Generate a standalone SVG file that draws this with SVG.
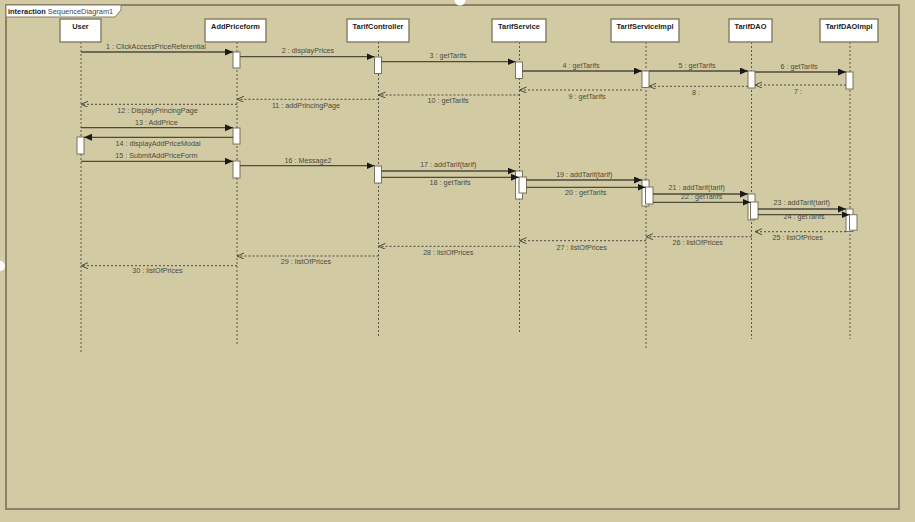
<svg xmlns="http://www.w3.org/2000/svg" width="915" height="522" viewBox="0 0 915 522">
<style>
.ll{stroke:#5e5848;stroke-width:1;stroke-dasharray:2,2;fill:none}
.msg{stroke:#4e4a3e;stroke-width:1.3;fill:none}
.ret{stroke:#4e4a3e;stroke-width:1;stroke-dasharray:2,2;fill:none}
.act{fill:#ffffff;stroke:#7b735a;stroke-width:1}
.box{fill:#ffffff;stroke:#8a8166;stroke-width:1.5}
.lbl{font-family:"Liberation Sans",Arial,sans-serif;font-size:7.2px;fill:#4d4a3f;text-anchor:middle}
.name{font-family:"Liberation Sans",Arial,sans-serif;font-size:7.4px;font-weight:bold;fill:#222;text-anchor:middle}
</style>
<defs>
<marker id="fa" markerUnits="userSpaceOnUse" markerWidth="9" markerHeight="8" refX="8" refY="3.5" orient="auto"><path d="M0,0 L8,3.5 L0,7 Z" fill="#1a1a1a"/></marker>
<marker id="oa" markerUnits="userSpaceOnUse" markerWidth="9" markerHeight="8" refX="7" refY="3" orient="auto"><path d="M0,0 L7,3 L0,6" fill="none" stroke="#4e4a3e" stroke-width="1"/></marker>
</defs>
<rect x="0" y="0" width="915" height="522" fill="#D1CAA2"/>
<g id="frame">
<rect x="6" y="5" width="893" height="504" fill="none" stroke="#8a8166" stroke-width="2"/>
<path d="M6,5 H121 V10 L115,17 H6 Z" fill="#ffffff" stroke="#8a8166" stroke-width="1"/>
<text x="8" y="14" font-family="'Liberation Sans',Arial,sans-serif" font-size="7.4px" fill="#222"><tspan font-weight="bold">interaction</tspan><tspan fill="#444"> SequenceDiagram1</tspan></text>
</g>
<circle cx="460" cy="0" r="5.5" fill="#ffffff"/>
<circle cx="0" cy="266" r="5" fill="#ffffff"/>

<g id="User">
<line class="ll" x1="81" y1="42" x2="81" y2="353"/>
<rect class="box" x="60" y="19" width="41" height="23"/>
<text class="name" x="80.5" y="28.5">User</text>
<rect class="act" x="77" y="137" width="7" height="17"/>
</g>
<g id="AddPriceform">
<line class="ll" x1="237" y1="42" x2="237" y2="346"/>
<rect class="box" x="205" y="19" width="61" height="23"/>
<text class="name" x="235.5" y="28.5">AddPriceform</text>
<rect class="act" x="233" y="52" width="7" height="16"/>
<rect class="act" x="233" y="128" width="7" height="16"/>
<rect class="act" x="233" y="161" width="7" height="17"/>
</g>
<g id="TarifController">
<line class="ll" x1="378.5" y1="42" x2="378.5" y2="336"/>
<rect class="box" x="347" y="19" width="62" height="23"/>
<text class="name" x="378" y="28.5">TarifController</text>
<rect class="act" x="374.5" y="57" width="7" height="16.5"/>
<rect class="act" x="374.5" y="166" width="7" height="17"/>
</g>
<g id="TarifService">
<line class="ll" x1="519.5" y1="42" x2="519.5" y2="332"/>
<rect class="box" x="492" y="19" width="54" height="23"/>
<text class="name" x="519" y="28.5">TarifService</text>
<rect class="act" x="515.5" y="62" width="7" height="16.5"/>
<rect class="act" x="515.5" y="171" width="7" height="28"/>
<rect class="act" x="519" y="177" width="7.5" height="16"/>
</g>
<g id="TarifServiceImpl">
<line class="ll" x1="646" y1="42" x2="646" y2="350"/>
<rect class="box" x="611" y="19" width="68" height="23"/>
<text class="name" x="645" y="28.5">TarifServiceImpl</text>
<rect class="act" x="642" y="71" width="7" height="16.5"/>
<rect class="act" x="642" y="180" width="7" height="26"/>
<rect class="act" x="645.5" y="187" width="7.5" height="17"/>
</g>
<g id="TarifDAO">
<line class="ll" x1="751.5" y1="42" x2="751.5" y2="339"/>
<rect class="box" x="729" y="19" width="43" height="23"/>
<text class="name" x="750.5" y="28.5">TarifDAO</text>
<rect class="act" x="748" y="71" width="7" height="17"/>
<rect class="act" x="748" y="194" width="7" height="26"/>
<rect class="act" x="750.5" y="202" width="7.5" height="17"/>
</g>
<g id="TarifDAOImpl">
<line class="ll" x1="850" y1="42" x2="850" y2="339"/>
<rect class="box" x="820" y="19" width="58" height="23"/>
<text class="name" x="849" y="28.5">TarifDAOImpl</text>
<rect class="act" x="846" y="72" width="7" height="17"/>
<rect class="act" x="846" y="209" width="7" height="22.5"/>
<rect class="act" x="849.5" y="214.7" width="7.5" height="15.5"/>
</g>

<g id="connectors">
<line class="msg" x1="81" y1="52" x2="233" y2="52" marker-end="url(#fa)"/>
<line class="msg" x1="240" y1="56.7" x2="374.5" y2="56.7" marker-end="url(#fa)"/>
<line class="msg" x1="381.5" y1="61.7" x2="515.5" y2="61.7" marker-end="url(#fa)"/>
<line class="msg" x1="522.5" y1="71" x2="642" y2="71" marker-end="url(#fa)"/>
<line class="msg" x1="649" y1="71" x2="748" y2="71" marker-end="url(#fa)"/>
<line class="msg" x1="755" y1="72" x2="846" y2="72" marker-end="url(#fa)"/>
<line class="ret" x1="846" y1="85" x2="755" y2="85" marker-end="url(#oa)"/>
<line class="ret" x1="748" y1="86.3" x2="649" y2="86.3" marker-end="url(#oa)"/>
<line class="ret" x1="642" y1="90" x2="519.5" y2="90" marker-end="url(#oa)"/>
<line class="ret" x1="519.5" y1="95" x2="378.5" y2="95" marker-end="url(#oa)"/>
<line class="ret" x1="378.5" y1="99.3" x2="237" y2="99.3" marker-end="url(#oa)"/>
<line class="ret" x1="237" y1="104.3" x2="81" y2="104.3" marker-end="url(#oa)"/>
<line class="msg" x1="81" y1="127.7" x2="233" y2="127.7" marker-end="url(#fa)"/>
<line class="msg" x1="233" y1="137.3" x2="84" y2="137.3" marker-end="url(#fa)"/>
<line class="msg" x1="81" y1="161.3" x2="233" y2="161.3" marker-end="url(#fa)"/>
<line class="msg" x1="240" y1="165.7" x2="374.5" y2="165.7" marker-end="url(#fa)"/>
<line class="msg" x1="381.5" y1="171" x2="515.5" y2="171" marker-end="url(#fa)"/>
<line class="msg" x1="381.5" y1="177.3" x2="519" y2="177.3" marker-end="url(#fa)"/>
<line class="msg" x1="526.5" y1="180" x2="642" y2="180" marker-end="url(#fa)"/>
<line class="msg" x1="526.5" y1="187.3" x2="645.5" y2="187.3" marker-end="url(#fa)"/>
<line class="msg" x1="653" y1="194" x2="748" y2="194" marker-end="url(#fa)"/>
<line class="msg" x1="653" y1="202.3" x2="750.5" y2="202.3" marker-end="url(#fa)"/>
<line class="msg" x1="758" y1="209" x2="846" y2="209" marker-end="url(#fa)"/>
<line class="msg" x1="758" y1="214.7" x2="849.5" y2="214.7" marker-end="url(#fa)"/>
<line class="ret" x1="846" y1="231.7" x2="755" y2="231.7" marker-end="url(#oa)"/>
<line class="ret" x1="751.5" y1="236.7" x2="646" y2="236.7" marker-end="url(#oa)"/>
<line class="ret" x1="646" y1="240.7" x2="519.5" y2="240.7" marker-end="url(#oa)"/>
<line class="ret" x1="519.5" y1="246.3" x2="378.5" y2="246.3" marker-end="url(#oa)"/>
<line class="ret" x1="378.5" y1="256" x2="237" y2="256" marker-end="url(#oa)"/>
<line class="ret" x1="237" y1="265.7" x2="81" y2="265.7" marker-end="url(#oa)"/>

<text class="lbl" x="156" y="48.5">1 : ClickAccessPriceReferential</text>
<text class="lbl" x="308" y="53">2 : displayPrices</text>
<text class="lbl" x="448" y="57.5">3 : getTarifs</text>
<text class="lbl" x="581" y="67.5">4 : getTarifs</text>
<text class="lbl" x="697" y="68">5 : getTarifs</text>
<text class="lbl" x="799" y="68.5">6 : getTarifs</text>
<text class="lbl" x="798" y="93.5">7 :</text>
<text class="lbl" x="696" y="94.5">8 :</text>
<text class="lbl" x="587" y="98.5">9 : getTarifs</text>
<text class="lbl" x="448" y="102.5">10 : getTarifs</text>
<text class="lbl" x="306" y="107.5">11 : addPrincingPage</text>
<text class="lbl" x="157.5" y="112.5">12 : DisplayPrincingPage</text>
<text class="lbl" x="156.3" y="124.5">13 : AddPrice</text>
<text class="lbl" x="158" y="146">14 : displayAddPriceModal</text>
<text class="lbl" x="156.3" y="157.5">15 : SubmitAddPriceForm</text>
<text class="lbl" x="308" y="162.5">16 : Message2</text>
<text class="lbl" x="448.3" y="167">17 : addTarif(tarif)</text>
<text class="lbl" x="450" y="185">18 : getTarifs</text>
<text class="lbl" x="584.3" y="176.5">19 : addTarif(tarif)</text>
<text class="lbl" x="585.7" y="194.5">20 : getTarifs</text>
<text class="lbl" x="696.7" y="190">21 : addTarif(tarif)</text>
<text class="lbl" x="701.7" y="199">22 : getTarifs</text>
<text class="lbl" x="801.7" y="204.5">23 : addTarif(tarif)</text>
<text class="lbl" x="804" y="218.5">24 : getTarifs</text>
<text class="lbl" x="797.7" y="240">25 : listOfPrices</text>
<text class="lbl" x="697.7" y="244.5">26 : listOfPrices</text>
<text class="lbl" x="581.7" y="249.5">27 : listOfPrices</text>
<text class="lbl" x="448.3" y="254.5">28 : listOfPrices</text>
<text class="lbl" x="306" y="264">29 : listOfPrices</text>
<text class="lbl" x="157.5" y="273">30 : listOfPrices</text>
</g>
</svg>
